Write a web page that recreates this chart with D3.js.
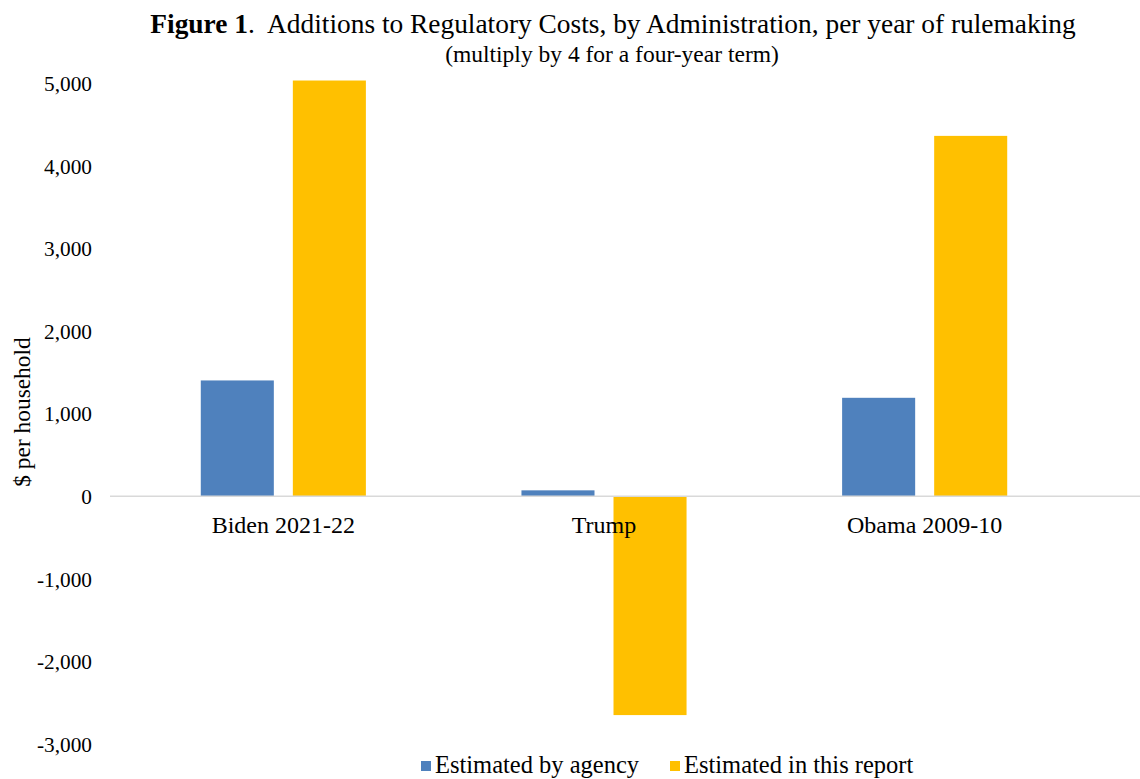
<!DOCTYPE html>
<html><head><meta charset="utf-8">
<script src="https://cdn.jsdelivr.net/npm/d3@7"></script>
<style>body{margin:0;background:#fff}svg{display:block}text{font-family:"Liberation Serif","Times New Roman",serif;fill:#000}</style>
</head><body>
<script>
const categories = ["Biden 2021-22", "Trump", "Obama 2009-10"];
const seriesNames = ["Estimated by agency", "Estimated in this report"];
const agencyValues = [1400, 70, 1190];
const reportValues = [5030, -2650, 4360];
const yTicks = [-3000, -2000, -1000, 0, 1000, 2000, 3000, 4000, 5000];
const colors = ["#4F81BD", "#FFC000"];

const W = 1140, H = 779;
const svg = d3.select("body").append("svg").attr("width", W).attr("height", H);

const y = d3.scaleLinear().domain([-3000, 5000]).range([744, 83]);
const x = d3.scaleBand().domain(categories).range([123, 1085]).paddingInner(0).paddingOuter(0);
const xs = d3.scaleBand().domain(seriesNames).range([0, x.bandwidth()]).paddingInner(0.2065).paddingOuter(0.845);

// title
const t = svg.append("text").attr("x", 613).attr("y", 33).attr("text-anchor", "middle").style("font-size", "27.4px");
t.append("tspan").style("font-weight", "bold").text("Figure 1");
t.append("tspan").text(".\u00A0 Additions to Regulatory Costs, by Administration, per year of rulemaking");
svg.append("text").attr("x", 612).attr("y", 62).attr("text-anchor", "middle").style("font-size", "23.5px")
  .text("(multiply by 4 for a four-year term)");

// y axis
const fmt = d3.format(",");
const yAxis = d3.axisLeft(y).tickValues(yTicks).tickSize(0).tickPadding(0).tickFormat(d => fmt(d).replace("\u2212", "-"));
const gy = svg.append("g").attr("transform", "translate(92,0)").call(yAxis);
gy.select(".domain").remove();
gy.selectAll("text").style("font-size", "21.3px").style("font-family", "Liberation Serif, serif").attr("fill", "#000").attr("dy", "0.35em");

svg.append("text").attr("transform", "translate(30,412) rotate(-90)").attr("text-anchor", "middle")
  .style("font-size", "23.4px").text("$ per household");

// bars
const data = [];
categories.forEach((c, i) => {
  data.push({cat: c, s: seriesNames[0], v: agencyValues[i], col: colors[0]});
  data.push({cat: c, s: seriesNames[1], v: reportValues[i], col: colors[1]});
});
svg.append("g").selectAll("rect").data(data).join("rect")
  .attr("x", d => x(d.cat) + xs(d.s))
  .attr("width", xs.bandwidth())
  .attr("y", d => y(Math.max(0, d.v)))
  .attr("height", d => Math.abs(y(d.v) - y(0)))
  .attr("fill", d => d.col);

// zero line
svg.append("line").attr("x1", 110).attr("x2", 1140).attr("y1", y(0)).attr("y2", y(0))
  .attr("stroke", "#d9d9d9").attr("stroke-width", 1.5);

// category labels
const xAxis = d3.axisBottom(x).tickSize(0).tickPadding(0);
const gx = svg.append("g").attr("transform", `translate(0,${y(0)})`).call(xAxis);
gx.select(".domain").remove();
gx.selectAll("text").style("font-size", "24px").style("font-family", "Liberation Serif, serif").attr("fill", "#000").attr("dy", "0").attr("y", 37);

// legend
const legX = [421, 670];
const lg = svg.append("g");
seriesNames.forEach((s, i) => {
  lg.append("rect").attr("x", legX[i]).attr("y", 761).attr("width", 10).attr("height", 10).attr("fill", colors[i]);
  lg.append("text").attr("x", legX[i] + 14).attr("y", 773).style("font-size", "24.5px").text(s);
});
</script>
</body></html>
